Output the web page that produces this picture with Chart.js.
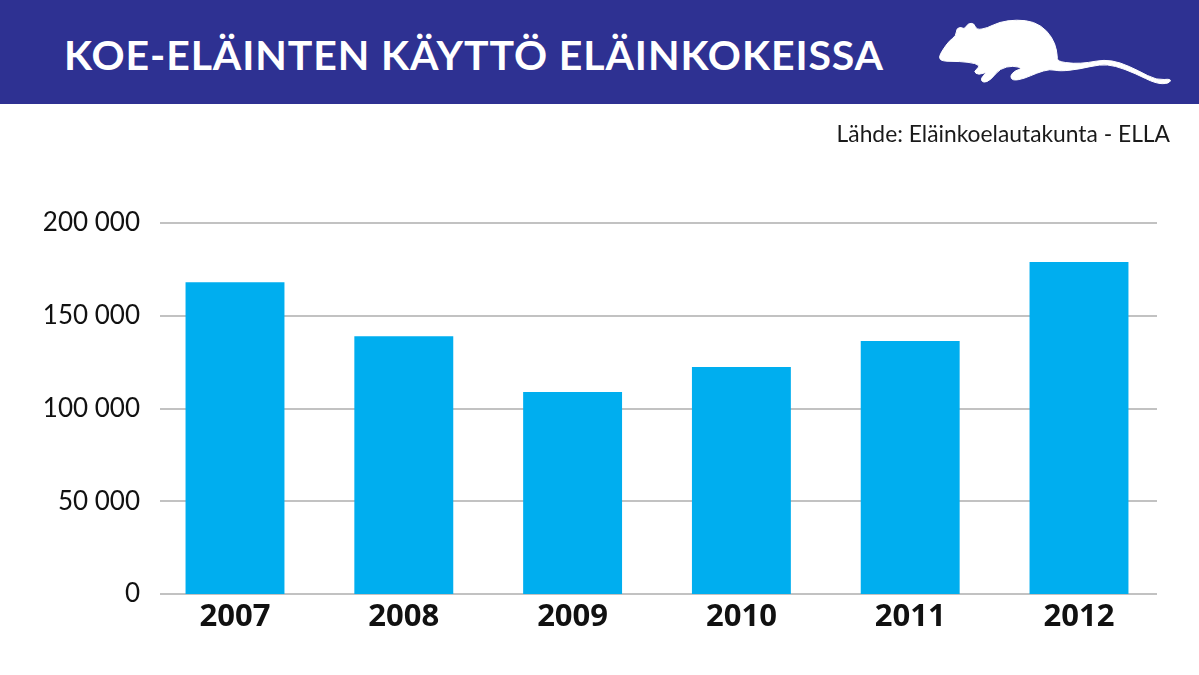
<!DOCTYPE html>
<html lang="fi">
<head>
<meta charset="utf-8">
<style>
html,body{margin:0;padding:0;background:#fff;width:1199px;height:675px;overflow:hidden}
#head{position:absolute;left:0;top:0;width:1199px;height:104px;background:#2e3192}
#title{position:absolute;left:64px;top:30px;color:#fff;font:700 41px/50px "Lato",sans-serif;letter-spacing:0.9px;white-space:nowrap}
#src{position:absolute;right:29px;top:118px;color:#1a1a1a;font:400 22.8px/30px "Lato",sans-serif;white-space:nowrap}
#rat{position:absolute;left:900px;top:0;width:300px;height:104px}
#wrap{position:absolute;left:0;top:0;width:1199px;height:675px}
</style>
</head>
<body>
<div id="wrap"><canvas id="c" width="1199" height="675"></canvas></div>
<div id="head">
<div id="title">KOE-ELÄINTEN KÄYTTÖ ELÄINKOKEISSA</div>
<svg id="rat" viewBox="0 0 900 312"><path id="ratPath" fill="#fff" stroke="#fff" stroke-width="3" stroke-linejoin="round"/></svg>
</div>
<div id="src">Lähde: Eläinkoelautakunta - ELLA</div>
<script src="https://cdn.jsdelivr.net/npm/chart.js@4"></script>
<script>
const categories = ["2007","2008","2009","2010","2011","2012"];
const animalCounts = [168000,139000,108900,122400,136400,179000];
const yTicks = [0,50000,100000,150000,200000];
const tickLabels = ["0","50 000","100 000","150 000","200 000"];

// Decorative rat silhouette in the header, smoothed outline
const ratOutline = [[116,172],[128,150],[148,122],[168,108],[170,84],[186,82],[192,88],[205,70],[222,70],[230,90],[262,84],[298,66],[350,59],[402,65],[442,92],[466,132],[472,168],[472,184],[520,191],[565,188],[612,179],[660,187],[715,212],[770,241],[815,236],[806,251],[768,251],[705,220],[645,197],[600,193],[540,207],[480,214],[450,207],[410,219],[372,236],[338,242],[330,228],[345,212],[368,205],[340,197],[300,205],[272,240],[250,249],[241,236],[262,215],[236,225],[220,215],[240,200],[228,190],[180,184],[126,184]];
(function(){
  const mid=(a,b)=>[(a[0]+b[0])/2,(a[1]+b[1])/2];
  const n=ratOutline.length;
  let s=mid(ratOutline[n-1],ratOutline[0]);
  let d='M'+s.join(' ');
  for(let i=0;i<n;i++){
    const m=mid(ratOutline[i],ratOutline[(i+1)%n]);
    d+='Q'+ratOutline[i].join(' ')+' '+m.join(' ');
  }
  document.getElementById('ratPath').setAttribute('d',d+'Z');
})();

const trimmedGrid = {
  id:'trimmedGrid',
  beforeDatasetsDraw(chart){
    const {ctx,scales:{y}} = chart;
    ctx.save();
    ctx.strokeStyle='#c2c2c2';
    ctx.lineWidth=2;
    y.ticks.forEach(t=>{
      const p=Math.round(y.getPixelForValue(t.value));
      ctx.beginPath();ctx.moveTo(160,p);ctx.lineTo(1157,p);ctx.stroke();
    });
    ctx.restore();
  }
};

new Chart(document.getElementById('c'),{
  type:'bar',
  data:{labels:categories,datasets:[{data:animalCounts,backgroundColor:'#00aeef',borderWidth:0,barPercentage:0.586,categoryPercentage:1}]},
  plugins:[trimmedGrid],
  options:{
    responsive:false,animation:false,
    layout:{padding:{top:223,right:35.6,bottom:0,left:0}},
    plugins:{legend:{display:false},tooltip:{enabled:false},title:{display:false}},
    scales:{
      x:{
        grid:{display:false},border:{display:false},
        afterFit(s){s.height=81;},
        ticks:{color:'#111',padding:-3,maxRotation:0,font:{family:'"Open Sans"',weight:'700',size:31}}
      },
      y:{
        min:0,max:200000,
        grid:{display:false,drawTicks:false},border:{display:false},
        afterFit(s){s.width=150.6;},
        afterBuildTicks(s){s.ticks=yTicks.map(v=>({value:v}));},
        ticks:{color:'#111',padding:10.6,font:{family:'Lato',size:26},
          callback(v){return tickLabels[yTicks.indexOf(v)];}}
      }
    }
  }
});
</script>
</body>
</html>
